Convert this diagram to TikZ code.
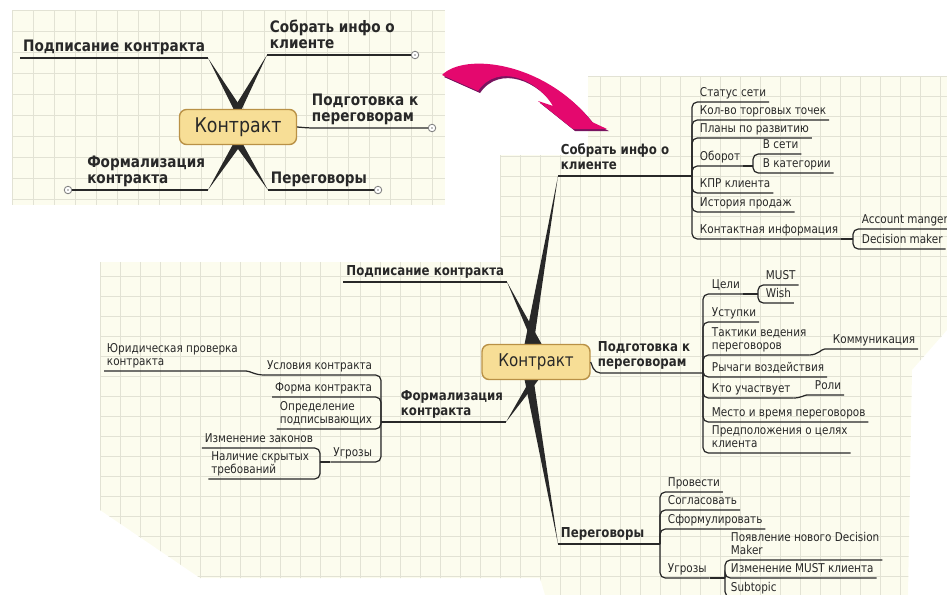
\documentclass[tikz,border=0pt]{standalone}
\usepackage{fontspec}
\setmainfont{DejaVu Sans}[FakeStretch=0.86]
\usetikzlibrary{calc}
\pgfdeclarelayer{background}
\pgfsetlayers{background,main}

\definecolor{paper}{RGB}{252,252,238}
\definecolor{gridc}{RGB}{226,226,212}
\definecolor{hubfill}{RGB}{247,222,150}
\definecolor{hubline}{RGB}{185,145,70}
\definecolor{ink}{RGB}{40,40,40}
\definecolor{arrowpink}{RGB}{228,8,110}
\definecolor{arrowshadow}{RGB}{120,20,95}

% tapered stem from a topic to the central box
\newcommand{\taper}[3]{\fill[ink] (#1) -- ($(#2)!#3!90:(#1)$) -- ($(#2)!#3!-90:(#1)$) -- cycle;}

\def\bigpanel{(100,262) -- (500,262) -- (500,155) -- (588,155) -- (588,76) -- (947,76) -- (947,330) -- (912,370) -- (908,595) -- (545,595) -- (540,578) -- (200,578) -- (100,510) -- cycle}
\def\bendarrow{(442,75) .. controls (465,52) and (545,62) .. (592,122) -- (607,129) -- (573,129) -- (538,101) -- (553,106) .. controls (538,80) and (498,62) .. (478,91) -- cycle}

\begin{document}
\begin{tikzpicture}[x=0.02cm, y=-0.02cm,
  gridline/.style={draw=gridc, line width=0.4pt},
  hub/.style={draw=hubline, fill=hubfill, line width=0.8pt, rounded corners=4pt, text=ink},
  topic/.style={font=\fontsize{7.8}{8.8}\selectfont\bfseries, text=ink, align=left, inner xsep=1.5pt, inner ysep=1.5pt, text depth=1.8pt},
  bigtopic/.style={topic, font=\fontsize{9}{9.2}\selectfont\bfseries},
  leaf/.style={font=\fontsize{6.9}{7.4}\selectfont, text=ink, align=left, inner xsep=1.5pt, inner ysep=1.2pt, text depth=1.5pt},
  branch/.style={draw=ink, line width=0.7pt, rounded corners=3pt},
  fold/.style={circle, draw=gray, fill=white, line width=0.5pt, minimum size=0.15cm, inner sep=0pt,
    path picture={\fill[gray] (path picture bounding box.center) circle (0.5pt);}}]

  \useasboundingbox (0,0) rectangle (947,595);

  %% Small map (top left)
  \node[hub, minimum width=2.34cm, minimum height=0.7cm, font=\fontsize{11.5}{12}\selectfont] (kc0) at (238,127) {Контракт};
  \node[bigtopic, anchor=south east] (podp0) at (208,58) {Подписание контракта};
  \node[bigtopic, anchor=south west] (sobr0) at (267,55) {Собрать инфо о\\клиенте};
  \node[bigtopic, anchor=south west] (podg0) at (309,128) {Подготовка к\\переговорам};
  \node[bigtopic, anchor=south east] (form0) at (208,190) {Формализация\\контракта};
  \node[bigtopic, anchor=south west] (pereg0) at (268,190) {Переговоры};
  \node[fold] (fold1) at (415,55) {};
  \node[fold] (fold2) at (432,128) {};
  \node[fold] (fold3) at (68,190) {};
  \node[fold] (fold4) at (378,190) {};
  \coordinate (kc0L) at ($(kc0.center)+(-10,0)$);
  \coordinate (kc0R) at ($(kc0.center)+(10,0)$);

  \draw[branch] (podp0.south west) -- (podp0.south east);
  \draw[branch] (sobr0.south west) -- (fold1);
  \draw[branch] (kc0.east) -- (podg0.south west) -- (fold2);
  \draw[branch] (fold3) -- (form0.south east);
  \draw[branch] (pereg0.south west) -- (fold4);

  %% Big map
  \node[hub, minimum width=2.16cm, minimum height=0.7cm, font=\fontsize{10}{11}\selectfont] (kc) at (536,362) {Контракт};
  \coordinate (kcL) at ($(kc.center)+(-10,0)$);
  \coordinate (kcR) at ($(kc.center)+(10,0)$);

  % Собрать инфо о клиенте
  \node[topic, anchor=south west] (sobr) at (558,176) {Собрать инфо о\\клиенте};
  \coordinate (jS) at (692,176);
  \node[leaf, anchor=south west] (stat) at (697,102) {Статус сети};
  \node[leaf, anchor=south west] (kolvo) at (697,120) {Кол-во торговых точек};
  \node[leaf, anchor=south west] (plany) at (697,138) {Планы по развитию};
  \node[leaf, anchor=south west] (oborot) at (697,166) {Оборот};
  \node[leaf, anchor=south west] (kpr) at (697,193) {КПР клиента};
  \node[leaf, anchor=south west] (istor) at (697,212) {История продаж};
  \node[leaf, anchor=south west] (kontakt) at (697,239) {Контактная информация};
  \coordinate (jOb) at (753,166);
  \node[leaf, anchor=south west] (vseti) at (760,154) {В сети};
  \node[leaf, anchor=south west] (vkat) at (760,173) {В категории};
  \coordinate (jKt) at (853,239);
  \node[leaf, anchor=south west] (accm) at (859,229) {Account manger};
  \node[leaf, anchor=south west] (decm) at (859,249) {Decision maker};

  \draw[branch] (sobr.south west) -- (jS);
  \foreach \c in {stat,kolvo,plany,oborot,kpr,istor,kontakt}
    \draw[branch] (jS) |- (\c.south east);
  \draw[branch] (oborot.south east) -- (jOb);
  \foreach \c in {vseti,vkat}
    \draw[branch] (jOb) |- (\c.south east);
  \draw[branch] (kontakt.south east) -- (jKt);
  \foreach \c in {accm,decm}
    \draw[branch] (jKt) |- (\c.south east);

  % Подготовка к переговорам
  \node[topic, anchor=south west] (podg) at (595,373) {Подготовка к\\переговорам};
  \coordinate (jP) at (703,373);
  \node[leaf, anchor=south west] (celi) at (709,294) {Цели};
  \node[leaf, anchor=south west] (ustup) at (709,322) {Уступки};
  \node[leaf, anchor=south west] (takt) at (709,355) {Тактики ведения\\переговоров};
  \node[leaf, anchor=south west] (rych) at (709,377) {Рычаги воздействия};
  \node[leaf, anchor=south west] (kto) at (709,398) {Кто участвует};
  \node[leaf, anchor=south west] (mesto) at (709,422) {Место и время переговоров};
  \node[leaf, anchor=south west] (predp) at (709,453) {Предположения о целях\\клиента};
  \coordinate (jC) at (758,294);
  \node[leaf, anchor=south west] (must) at (763,285) {MUST};
  \node[leaf, anchor=south west] (wish) at (763,303) {Wish};
  \node[leaf, anchor=south west] (komm) at (830,349) {Коммуникация};
  \node[leaf, anchor=south west] (roli) at (812,395) {Роли};

  \draw[branch] (kc.east) -- (podg.south west) -- (jP);
  \foreach \c in {celi,ustup,takt,rych,kto,mesto,predp}
    \draw[branch] (jP) |- (\c.south east);
  \draw[branch] (celi.south east) -- (jC);
  \foreach \c in {must,wish}
    \draw[branch] (jC) |- (\c.south east);
  \draw[branch] (takt.south east) to[out=0,in=180] (komm.south west) -- (komm.south east);
  \draw[branch] (kto.south east) to[out=0,in=180] (roli.south west) -- (roli.south east);

  % Переговоры
  \node[topic, anchor=south west] (pereg) at (558,544) {Переговоры};
  \coordinate (jN) at (660,544);
  \node[leaf, anchor=south west] (provesti) at (665,492) {Провести};
  \node[leaf, anchor=south west] (soglas) at (665,510) {Согласовать};
  \node[leaf, anchor=south west] (sform) at (665,529) {Сформулировать};
  \node[leaf, anchor=south west] (ugrN) at (665,578) {Угрозы};
  \coordinate (jU) at (725,578);
  \node[leaf, anchor=south west] (poyav) at (728,560) {Появление нового Decision\\Maker};
  \node[leaf, anchor=south west] (izmM) at (728,578) {Изменение MUST клиента};
  \node[leaf, anchor=south west] (subt) at (728,597) {Subtopic};

  \draw[branch] (pereg.south west) -- (jN);
  \foreach \c in {provesti,soglas,sform,ugrN}
    \draw[branch] (jN) |- (\c.south east);
  \draw[branch] (ugrN.south east) -- (jU);
  \foreach \c in {poyav,izmM,subt}
    \draw[branch] (jU) |- (\c.south east);

  % Подписание контракта
  \node[topic, anchor=south east] (podp) at (507,282) {Подписание контракта};
  \draw[branch] (podp.south west) -- (podp.south east);

  % Формализация контракта
  \node[topic, anchor=south east] (form) at (506,422) {Формализация\\контракта};
  \coordinate (jF) at (381,422);
  \node[leaf, anchor=south east] (uslov) at (375,375) {Условия контракта};
  \node[leaf, anchor=south east] (forma) at (375,397) {Форма контракта};
  \node[leaf, anchor=south east] (opred) at (375,429) {Определение\\подписывающих};
  \node[leaf, anchor=south east] (ugrF) at (375,462) {Угрозы};
  \node[leaf, anchor=south west] (yurid) at (104,371) {Юридическая проверка\\контракта};
  \coordinate (jU2) at (320,462);
  \node[leaf, anchor=south east] (izmZ) at (316,448) {Изменение законов};
  \node[leaf, anchor=south east] (nalich) at (312,479) {Наличие скрытых\\требований};

  \draw[branch] (jF) -- (form.south east);
  \foreach \c in {uslov,forma,opred,ugrF}
    \draw[branch] (jF) |- (\c.south west);
  \draw[branch] (yurid.south west) -- (yurid.south east) to[out=0,in=180] (uslov.south west);
  \draw[branch] (ugrF.south west) -- (jU2);
  \foreach \c in {izmZ,nalich}
    \draw[branch] (jU2) |- (\c.south west);

  %% Paper, grid and stems
  \begin{pgfonlayer}{background}
    \fill[paper] (12,10) rectangle (445,205);
    \begin{scope}
      \clip (12,10) rectangle (445,205);
      \foreach \gx in {12,33,...,445} \draw[gridline] (\gx,10) -- (\gx,205);
      \foreach \gy in {10,31,...,205} \draw[gridline] (12,\gy) -- (445,\gy);
    \end{scope}
    \fill[paper] \bigpanel;
    \begin{scope}
      \clip \bigpanel;
      \foreach \gx in {100,120,...,947} \draw[gridline] (\gx,70) -- (\gx,595);
      \foreach \gy in {76,96,...,595} \draw[gridline] (100,\gy) -- (947,\gy);
    \end{scope}
    \taper{podp0.south east}{kc0R}{2.8pt}
    \taper{sobr0.south west}{kc0L}{2.8pt}
    \taper{form0.south east}{kc0R}{2.8pt}
    \taper{pereg0.south west}{kc0L}{2.8pt}
    \taper{podp.south east}{kcR}{2.8pt}
    \taper{sobr.south west}{kcL}{2.8pt}
    \taper{form.south east}{kcR}{2.8pt}
    \taper{pereg.south west}{kcL}{2.8pt}
  \end{pgfonlayer}

  %% Arrow from the small map to the big one
  \begin{scope}[shift={(2,2)}]
    \fill[arrowshadow] \bendarrow;
  \end{scope}
  \fill[arrowpink] \bendarrow;

\end{tikzpicture}
\end{document}
